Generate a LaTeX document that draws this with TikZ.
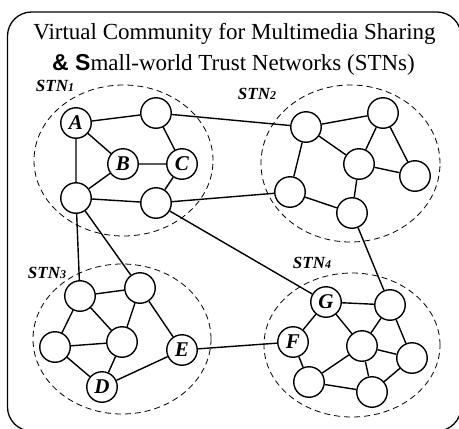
\documentclass[tikz,border=0pt]{standalone}
\usepackage{fontspec}
\setmainfont{Liberation Serif}
\newfontfamily\ampsfont{Liberation Sans}
\begin{document}
\begin{tikzpicture}[x=1pt,y=-1pt,
  nd/.style={circle,draw,line width=1.4pt,fill=white,minimum size=30.5pt,inner sep=0pt,
    font=\fontsize{21}{21}\selectfont\bfseries\itshape},
  ed/.style={line width=1.4pt},
  grp/.style={draw,dash pattern=on 6pt off 4pt,line width=0.8pt},
  lbl/.style={font=\fontsize{17}{17}\selectfont\bfseries\itshape,inner sep=0pt},
  ttl/.style={anchor=base,inner sep=0pt,font=\fontsize{23}{27}\selectfont}]
\useasboundingbox (0,0) rectangle (459,429);
\begin{scope}
  \clip (0,0) rectangle (459,429);
  \draw[line width=1.3pt,rounded corners=24pt] (7.5,12) rectangle (461,431);
\end{scope}
% title
\node[ttl] (t1) at (234.5,39) {Virtual Community for Multimedia Sharing};
\node[ttl] (t2) at (233.5,70) {{\ampsfont\bfseries\& S}mall-world Trust Networks (STNs)};
% groups
\draw[grp] (123.5,160.5) ellipse [x radius=89.5pt, y radius=75.5pt];
\draw[grp] (350.5,163.5) ellipse [x radius=89.5pt, y radius=78.5pt];
\draw[grp] (122,339) ellipse [x radius=89pt, y radius=75pt];
\draw[grp] (352,345) ellipse [x radius=88pt, y radius=72pt];
\node[lbl] (l1) at (55,86) {STN\raisebox{-0.5pt}{\fontsize{12}{12}\selectfont 1}};
\node[lbl] (l2) at (257,94) {STN\raisebox{-0.5pt}{\fontsize{12}{12}\selectfont 2}};
\node[lbl] (l3) at (47,273) {STN\raisebox{-0.5pt}{\fontsize{12}{12}\selectfont 3}};
\node[lbl] (l4) at (312,263) {STN\raisebox{-0.5pt}{\fontsize{12}{12}\selectfont 4}};
% STN1
\node[nd] (A) at (76,123) {A};
\node[nd] (a2) at (156,113) {};
\node[nd] (B) at (123,164) {B};
\node[nd] (C) at (182,164) {C};
\node[nd] (a5) at (76,198) {};
\node[nd] (a6) at (156,203) {};
% STN2
\node[nd] (b1) at (306,127) {};
\node[nd] (b2) at (383,113) {};
\node[nd] (b3) at (359,164) {};
\node[nd] (b4) at (415,176) {};
\node[nd] (b5) at (290,192) {};
\node[nd] (b6) at (352,213) {};
% STN3
\node[nd] (c1) at (80,296) {};
\node[nd] (c2) at (140,288) {};
\node[nd] (c3) at (55,347) {};
\node[nd] (c4) at (122,342) {};
\node[nd] (E) at (182,350) {E};
\node[nd] (D) at (102,387) {D};
% STN4
\node[nd] (G) at (326,302) {G};
\node[nd] (F) at (293,342) {F};
\node[nd] (d3) at (390,305) {};
\node[nd] (d4) at (362,346) {};
\node[nd] (d5) at (412,358) {};
\node[nd] (d6) at (309,382) {};
\node[nd] (d7) at (372,392) {};
% edges
\draw[ed] (A) -- (a2) (A) -- (B) (A) -- (a5) (a2) -- (C) (B) -- (C) (B) -- (a5)
  (C) -- (a6) (a5) -- (a6);
\draw[ed] (a2) -- (b1) (a6) -- (b5) (a5) -- (c1) (a5) -- (c2) (a6) -- (G);
\draw[ed] (b1) -- (b2) (b1) -- (b3) (b1) -- (b5) (b2) -- (b3) (b2) -- (b4) (b3) -- (b4)
  (b3) -- (b6) (b5) -- (b6) (b6) -- (d3);
\draw[ed] (c1) -- (c2) (c1) -- (c3) (c1) -- (c4) (c2) -- (c4) (c2) -- (E) (c3) -- (c4)
  (c3) -- (D) (c4) -- (D) (D) -- (E) (E) -- (F);
\draw[ed] (G) -- (F) (G) -- (d3) (G) -- (d4) (d3) -- (d4) (d3) -- (d5) (d4) -- (d5)
  (d4) -- (d6) (d4) -- (d7) (F) -- (d6) (d6) -- (d7) (d7) -- (d5);
\end{tikzpicture}
\end{document}
